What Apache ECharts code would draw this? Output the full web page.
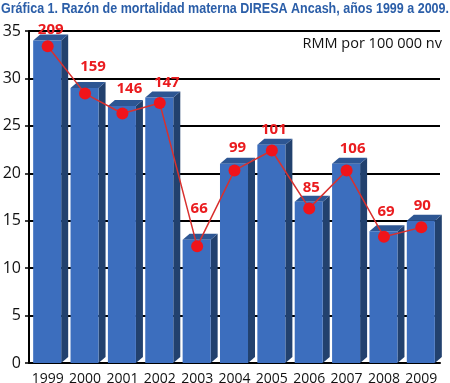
<!DOCTYPE html>
<html>
<head>
<meta charset="utf-8">
<script src="https://cdn.jsdelivr.net/npm/echarts@6/dist/echarts.min.js"></script>
<style>
html, body { margin: 0; padding: 0; background: #fff; }
#chart { width: 450px; height: 383px; }
</style>
</head>
<body>
<div id="chart"></div>
<script>
var years = ['1999', '2000', '2001', '2002', '2003', '2004', '2005', '2006', '2007', '2008', '2009'];
var barValues = [34, 29, 27.1, 28, 13, 21, 23, 17, 21, 13.9, 15];
var lineValues = [33.4, 28.4, 26.3, 27.4, 12.3, 20.3, 22.4, 16.3, 20.3, 13.3, 14.3];
var rmmLabels = ['209', '159', '146', '147', '66', '99', '101', '85', '106', '69', '90'];
var yTicks = [0, 5, 10, 15, 20, 25, 30, 35];

// small nudges so the red labels sit where they do in the original
var labelNudge = [[3, 5], [8, -5], [7, -3], [7, 1], [2, -16], [3, -1], [2, 1], [2, 1], [6, 0], [2, -4], [1, 0]];

var titleText = 'Gráfica 1. Razón de mortalidad materna DIRESA Ancash, años 1999 a 2009.';
var titleFont = 'bold 14px "Liberation Sans", Arial, sans-serif';

// no narrow font installed, so squeeze the title to the original width
var ctx = document.createElement('canvas').getContext('2d');
ctx.font = titleFont;
var titleScale = 448 / ctx.measureText(titleText).width;

var myChart = echarts.init(document.getElementById('chart'));

// 3D bar: front face, right side face and top face
function renderBar(params, api) {
    var top = api.coord([api.value(0), api.value(1)]);
    var base = api.coord([api.value(0), 0]);
    var band = api.size([1, 0])[0];
    var w = band * 0.75;
    var x0 = top[0] - w / 2 - 0.5;
    var x1 = x0 + w;
    var dx = 7, dy = 6;
    return {
        type: 'group',
        children: [
            {
                type: 'polygon',
                shape: { points: [[x1, top[1]], [x1 + dx, top[1] - dy], [x1 + dx, base[1] - dy], [x1, base[1]]] },
                style: { fill: '#22416e' }
            },
            {
                type: 'polygon',
                shape: { points: [[x0, top[1]], [x0 + dx, top[1] - dy], [x1 + dx, top[1] - dy], [x1, top[1]]] },
                style: { fill: '#2d5693' }
            },
            {
                type: 'rect',
                shape: { x: x0, y: top[1], width: w, height: base[1] - top[1] },
                style: { fill: '#3c6ebe' }
            }
        ]
    };
}

var lineData = lineValues.map(function (v, i) {
    return {
        value: v,
        label: { offset: labelNudge[i], formatter: rmmLabels[i] }
    };
});

myChart.setOption({
    animation: false,
    graphic: [
        {
            type: 'text',
            x: 1,
            y: 2,
            scaleX: titleScale,
            style: {
                text: titleText,
                font: titleFont,
                fill: '#2b5ea8'
            }
        },
        {
            type: 'text',
            right: 8,
            top: 36,
            style: {
                text: 'RMM por 100 000 nv',
                font: '14.5px "Open Sans", sans-serif',
                fill: '#111'
            }
        }
    ],
    grid: { left: 29, right: 10, top: 31, bottom: 20, outerBoundsMode: 'none' },
    xAxis: {
        type: 'category',
        data: years,
        axisLine: { lineStyle: { color: '#000', width: 2 } },
        axisTick: { length: 8, lineStyle: { color: '#000', width: 1.5 } },
        axisLabel: {
            interval: 0,
            color: '#111',
            fontFamily: '"Open Sans", sans-serif',
            fontSize: 14,
            margin: 9
        }
    },
    yAxis: {
        type: 'value',
        min: 0,
        max: 35,
        interval: 5,
        axisLine: { show: true, lineStyle: { color: '#000', width: 2 } },
        axisTick: { show: true, length: 4, lineStyle: { color: '#000', width: 1.5 } },
        axisLabel: {
            color: '#111',
            fontFamily: '"Open Sans", sans-serif',
            fontSize: 16,
            margin: 8,
            formatter: function (v) { return yTicks.indexOf(v) >= 0 ? v : ''; }
        },
        splitLine: { lineStyle: { color: '#000', width: 1.8 } }
    },
    series: [
        {
            type: 'custom',
            renderItem: renderBar,
            data: barValues.map(function (v, i) { return [i, v]; }),
            encode: { x: 0, y: 1 },
            z: 2
        },
        {
            type: 'line',
            data: lineData,
            symbol: 'circle',
            symbolSize: 12,
            itemStyle: { color: '#f0141a' },
            lineStyle: { color: '#d8302e', width: 1.5 },
            label: {
                show: true,
                position: 'top',
                distance: 8,
                color: '#ea1c1f',
                fontFamily: '"Open Sans", sans-serif',
                fontWeight: 'bold',
                fontSize: 15
            },
            z: 5
        }
    ]
});
</script>
</body>
</html>
